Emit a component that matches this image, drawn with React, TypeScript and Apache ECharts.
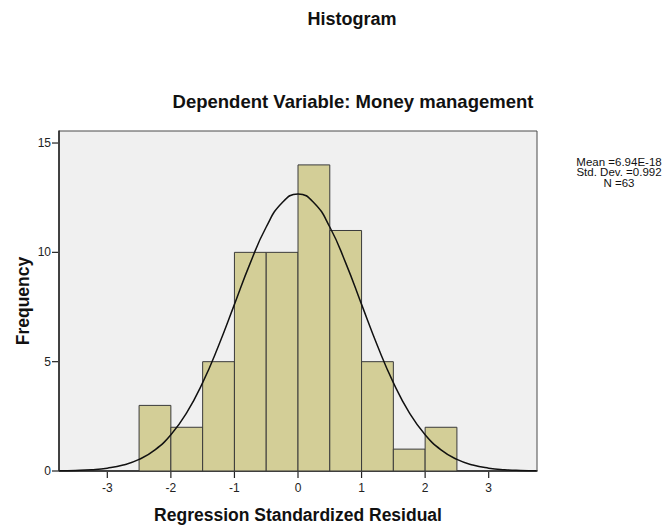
import React, { useEffect, useRef } from "react";
import * as echarts from "echarts";

const binStarts = [-2.5, -2.0, -1.5, -1.0, -0.5, 0.0, 0.5, 1.0, 1.5, 2.0];
const binWidth = 0.5;
const frequencies = [3, 2, 5, 10, 10, 14, 11, 5, 1, 2];

const curveX = [-3.75, -3.5, -3.25, -3.0, -2.75, -2.5, -2.25, -2.0, -1.75, -1.5, -1.25, -1.0, -0.75, -0.5, -0.25, 0, 0.25, 0.5, 0.75, 1.0, 1.25, 1.5, 1.75, 2.0, 2.25, 2.5, 2.75, 3.0, 3.25, 3.5, 3.75];
const curveY = [0.01, 0.025, 0.059, 0.131, 0.272, 0.529, 0.967, 1.66, 2.67, 4.04, 5.73, 7.62, 9.52, 11.16, 12.27, 12.67, 12.27, 11.16, 9.52, 7.62, 5.73, 4.04, 2.67, 1.66, 0.967, 0.529, 0.272, 0.131, 0.059, 0.025, 0.01];

const xTicks = [-3, -2, -1, 0, 1, 2, 3];
const yTicks = [0, 5, 10, 15];

const statsLines = ["Mean =6.94E-18", "Std. Dev. =0.992", "N =63"];

export default function App() {
  const ref = useRef<HTMLDivElement>(null);
  useEffect(() => {
    if (!ref.current) return;
    const chart = echarts.init(ref.current, undefined, { renderer: "svg" });
    const barData = binStarts.map((s, i) => [s, s + binWidth, frequencies[i]]);
    const font = "'Liberation Sans', Arial, sans-serif";
    const X_MIN = -3.76;
    chart.setOption({
      animation: false,
      backgroundColor: "#ffffff",
      textStyle: { fontFamily: font },
      grid: {
        left: 59,
        top: 131,
        right: 130,
        bottom: 56,
        outerBoundsMode: "none",
        containLabel: false,
        show: true,
        backgroundColor: "#f0f0f0",
        borderColor: "#4a4a4a",
        borderWidth: 1,
      },
      xAxis: {
        type: "value",
        min: X_MIN,
        max: 3.76,
        splitLine: { show: false },
        axisLine: { show: true, onZero: false, lineStyle: { color: "#222", width: 1.5 } },
        axisTick: { show: false },
        axisLabel: {
          customValues: xTicks,
          color: "#222",
          fontSize: 12,
          fontFamily: font,
          margin: 11,
        },
        name: "Regression Standardized Residual",
        nameLocation: "middle",
        nameGap: 35,
        nameTextStyle: { fontSize: 17.5, fontWeight: "bold", color: "#111", fontFamily: font },
      },
      yAxis: {
        type: "value",
        min: 0,
        max: 15.55,
        splitLine: { show: false },
        axisLine: { show: true, onZero: false, lineStyle: { color: "#222", width: 1.5 } },
        axisTick: { show: false },
        axisLabel: {
          customValues: yTicks,
          color: "#222",
          fontSize: 12,
          fontFamily: font,
          margin: 8,
        },
      },
      graphic: [
        {
          type: "text",
          x: 352,
          y: 19,
          style: {
            text: "Histogram",
            font: `bold 18px ${font}`,
            fill: "#111",
            align: "center",
            verticalAlign: "middle",
          },
        },
        {
          type: "text",
          x: 353,
          y: 101,
          style: {
            text: "Dependent Variable: Money management",
            font: `bold 18.5px ${font}`,
            fill: "#111",
            align: "center",
            verticalAlign: "middle",
          },
        },
        {
          type: "text",
          x: 23,
          y: 301,
          rotation: Math.PI / 2,
          style: {
            text: "Frequency",
            font: `bold 17.5px ${font}`,
            fill: "#111",
            align: "center",
            verticalAlign: "middle",
          },
        },
        ...statsLines.map((line, i) => ({
          type: "text",
          x: 619,
          y: 161.5 + i * 10.8,
          style: {
            text: line,
            font: `11.5px ${font}`,
            fill: "#111",
            align: "center",
            verticalAlign: "middle",
          },
        })),
      ],
      series: [
        {
          type: "custom",
          data: barData,
          encode: { x: [0, 1], y: 2 },
          renderItem: (params: any, api: any) => {
            const p0 = api.coord([api.value(0), api.value(2)]);
            const p1 = api.coord([api.value(1), 0]);
            return {
              type: "rect",
              shape: { x: p0[0], y: p0[1], width: p1[0] - p0[0], height: p1[1] - p0[1] },
              style: { fill: "#d3ce97", stroke: "#3a3a3a", lineWidth: 1 },
            };
          },
          z: 2,
        },
        {
          type: "line",
          data: curveX.map((x, i) => [x, curveY[i]]),
          smooth: true,
          showSymbol: false,
          symbol: "none",
          lineStyle: { color: "#111", width: 1.5 },
          z: 3,
        },
        {
          type: "custom",
          clip: false,
          silent: true,
          data: xTicks.map((v) => [v, 0]),
          encode: { x: 0, y: 1 },
          renderItem: (params: any, api: any) => {
            const p = api.coord([api.value(0), 0]);
            return {
              type: "line",
              shape: { x1: p[0], y1: p[1] + 1, x2: p[0], y2: p[1] + 7 },
              style: { stroke: "#222", lineWidth: 1.2 },
            };
          },
          z: 4,
        },
        {
          type: "custom",
          clip: false,
          silent: true,
          data: yTicks.map((v) => [X_MIN, v]),
          encode: { x: 0, y: 1 },
          renderItem: (params: any, api: any) => {
            const p = api.coord([X_MIN, api.value(1)]);
            return {
              type: "line",
              shape: { x1: p[0] - 7, y1: p[1], x2: p[0] - 1, y2: p[1] },
              style: { stroke: "#222", lineWidth: 1.2 },
            };
          },
          z: 4,
        },
      ],
    });
    return () => chart.dispose();
  }, []);
  return <div ref={ref} style={{ width: 667, height: 527, position: "absolute", left: 0, top: 0 }} />;
}
